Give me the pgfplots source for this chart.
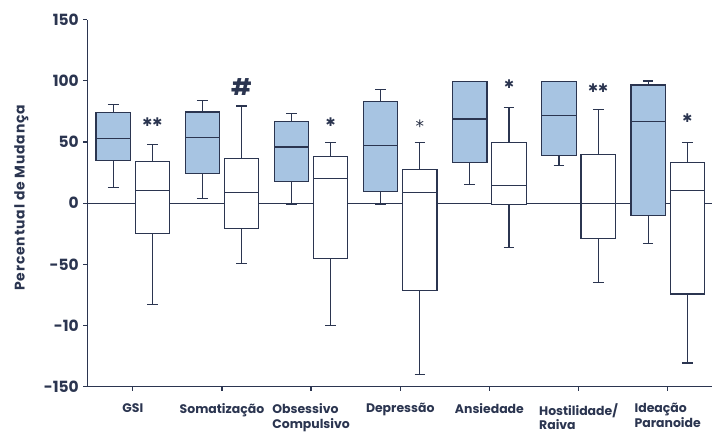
\documentclass[border=0pt]{standalone}
\usepackage{pgfplots}
\pgfplotsset{compat=1.18}
\usepgfplotslibrary{statistics}
\usepackage{fontspec}
\setmainfont{Poppins}
\newfontfamily\wide{Poppins}[LetterSpace=6]
\newfontfamily\sym{DejaVu Sans}
\definecolor{navy}{HTML}{2B3550}
\definecolor{boxblue}{HTML}{A7C4E2}
\begin{document}
\begin{tikzpicture}[x=1bp,y=1bp]
\begin{axis}[
  scale only axis,
  width=625bp, height=367bp,
  xmin=-0.51, xmax=6.5,
  ymin=-150, ymax=150,
  axis lines=left,
  axis line style={navy, line width=1.2bp, -},
  xtick={0,...,6},
  xticklabels={GSI,Somatização,{Obsessivo\\Compulsivo},Depressão,Ansiedade,{Hostilidade/\\Raiva},{Ideação\\Paranoide}},
  xticklabel style={align=left, font=\fontsize{12.5}{15}\selectfont\bfseries, text=navy, anchor=north, yshift=-9bp},
  ytick={-150,-100,-50,0,50,100,150},
  yticklabels={-150,-10,-50,0,50,100,150},
  yticklabel style={font=\fontsize{15.5}{15}\selectfont\bfseries, text=navy, xshift=-1bp},
  tick align=outside,
  major tick length=4bp,
  tick style={navy, line width=1.2bp},
  ylabel={Percentual de Mudança},
  every axis y label/.style={at={(axis description cs:-0.1056,0.515)}, rotate=90, anchor=center, font=\wide\fontsize{14}{14}\selectfont\bfseries, text=navy},
  clip=false,
  boxplot/draw direction=y,
  boxplot/box extend=0.385,
  boxplot/whisker extend=0.12,
]
\newcommand{\bx}[7]{\addplot[draw=navy, line width=1.2bp, fill=#7, boxplot prepared={lower whisker=#1, lower quartile=#2, median=#3, upper quartile=#4, upper whisker=#5, draw position=#6}] coordinates {};}
\draw[navy, line width=1.1bp] (axis cs:-0.51,0) -- (axis cs:6.5,0);
% GSI
\bx{12.8}{35.1}{52.6}{74}{80.8}{-0.22}{boxblue}
\bx{-82.7}{-24.7}{10.1}{34.3}{48.2}{0.22}{white}
% Somatizacao
\bx{3.6}{24.3}{53.9}{74.6}{84.1}{0.78}{boxblue}
\bx{-49}{-20.7}{9.0}{36.7}{79.5}{1.22}{white}
% Obsessivo
\bx{-1.3}{18}{46}{67}{73.2}{1.78}{boxblue}
\bx{-99.9}{-45.4}{20.2}{38.4}{49.6}{2.22}{white}
% Depressao
\bx{-1}{9.8}{47.4}{83}{92.8}{2.78}{boxblue}
\bx{-139.9}{-71.3}{8.7}{27.8}{49.6}{3.22}{white}
% Ansiedade
\bx{15.5}{33.2}{68.9}{99.6}{99.6}{3.78}{boxblue}
\bx{-36.4}{-1.1}{14.5}{49.6}{78.1}{4.22}{white}
% Hostilidade
\bx{30.8}{39.2}{71.9}{99.6}{99.6}{4.78}{boxblue}
\bx{-64.7}{-28.8}{0}{39.8}{76.5}{5.22}{white}
% Ideacao
\bx{-32.7}{-10}{66.7}{96.7}{99.9}{5.78}{boxblue}
\bx{-130.6}{-74.3}{10.4}{33}{49.6}{6.22}{white}
% significance marks
\node[text=navy, font=\sym\fontsize{12}{12}\selectfont, inner sep=0pt] at (axis cs:0.22,66) {✱✱};
\node[text=navy, font=\bfseries\fontsize{23}{23}\selectfont, inner sep=0pt] at (axis cs:1.22,95) {\#};
\node[text=navy, font=\sym\fontsize{12}{12}\selectfont, inner sep=0pt] at (axis cs:2.22,66) {✱};
\node[text=navy!80!black, font=\sym\fontsize{17}{17}\selectfont, inner sep=0pt] at (axis cs:3.22,63) {*};
\node[text=navy, font=\sym\fontsize{12}{12}\selectfont, inner sep=0pt] at (axis cs:4.22,97.5) {✱};
\node[text=navy, font=\sym\fontsize{12}{12}\selectfont, inner sep=0pt] at (axis cs:5.22,93.9) {✱✱};
\node[text=navy, font=\sym\fontsize{12}{12}\selectfont, inner sep=0pt] at (axis cs:6.22,69.4) {✱};
\end{axis}
\pgfresetboundingbox
\path[use as bounding box] (-87.3bp,-47.3bp) rectangle (630.7bp,386.7bp);
\end{tikzpicture}
\end{document}
